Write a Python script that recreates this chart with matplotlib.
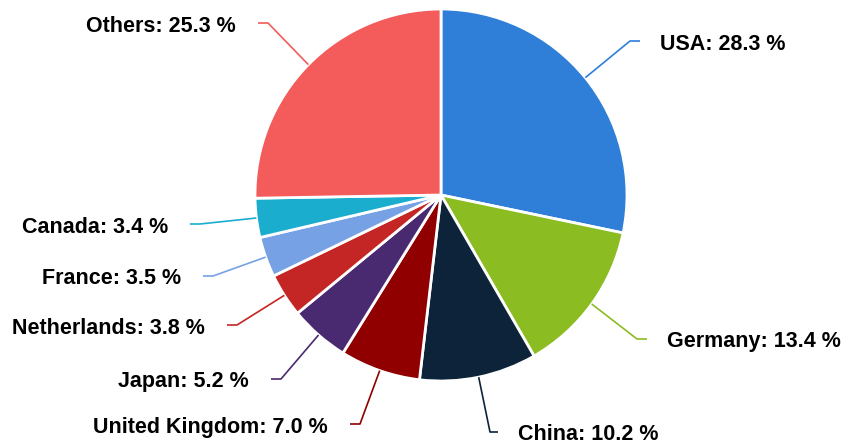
import numpy as np
import matplotlib
matplotlib.use("Agg")
import matplotlib.pyplot as plt

countries = ["USA", "Germany", "China", "United Kingdom", "Japan",
             "Netherlands", "France", "Canada", "Others"]
shares = [28.3, 13.4, 10.2, 7.0, 5.2, 3.8, 3.5, 3.4, 25.3]
colors = ["#2f7ed8", "#8bbc21", "#0d233a", "#910000", "#492970",
          "#c42525", "#77a1e5", "#1aadce", "#f45b5b"]

W, H = 843, 444
CX, CY, R = 441, 195, 186

# label layout in pixel coords: elbow point, line end, side
label_layout = {
    "USA": ((630, 41), (640, 41), "left"),
    "Germany": ((637, 339), (647, 339), "left"),
    "China": ((490, 432), (498, 432), "left"),
    "United Kingdom": ((360, 424), (350, 424), "right"),
    "Japan": ((281, 379), (271, 379), "right"),
    "Netherlands": ((237, 325), (227, 325), "right"),
    "France": ((213, 276), (203, 276), "right"),
    "Canada": ((200, 224), (190, 224), "right"),
    "Others": ((268, 23), (258, 23), "right"),
}


def px(x, y):
    return x, H - y


fig = plt.figure(figsize=(W / 100, H / 100), dpi=100)
ax = fig.add_axes([0, 0, 1, 1])

wedges, _ = ax.pie(
    shares,
    colors=colors,
    startangle=90,
    counterclock=False,
    center=px(CX, CY),
    radius=R,
    wedgeprops=dict(edgecolor="white", linewidth=2),
)

for wedge, name, share, color in zip(wedges, countries, shares, colors):
    mid = np.deg2rad((wedge.theta1 + wedge.theta2) / 2)
    sx = CX + R * np.cos(mid)
    sy = CY - R * np.sin(mid)
    (ex, ey), (lx, ly), side = label_layout[name]
    xs = [sx, ex, lx]
    ys = [H - sy, H - ey, H - ly]
    ax.plot(xs, ys, color=color, lw=1.2, solid_capstyle="butt")
    if side == "left":
        tx, ha = lx + 20, "left"
    else:
        tx, ha = lx - 22, "right"
    ax.text(tx, H - (ly + 3), f"{name}: {share:.1f} %", ha=ha, va="center",
            fontsize=15.5, fontweight="bold", family="Liberation Sans",
            color="#000000")

ax.set_xlim(0, W)
ax.set_ylim(0, H)
ax.set_aspect("equal")
ax.axis("off")

fig.savefig("out.png", dpi=100, facecolor="white")
